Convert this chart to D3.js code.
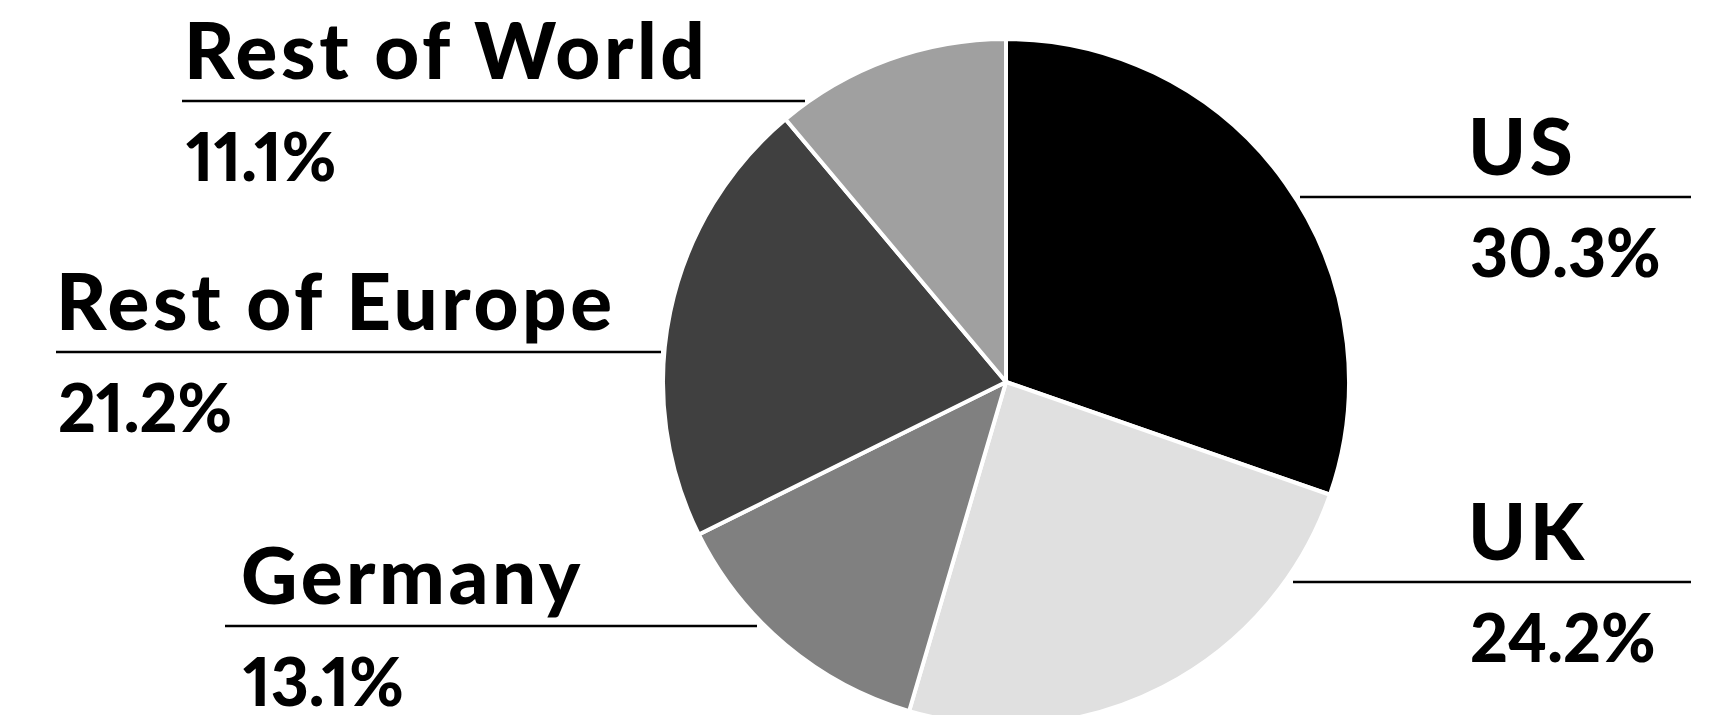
<!DOCTYPE html>
<html lang="en">
<head>
  <meta charset="UTF-8">
  <script src="https://d3js.org/d3.v7.min.js"></script>
  <title>Share by region</title>
  <style>
    html, body { margin: 0; padding: 0; background: #fff; }
    svg { display: block; }
    text { font-family: "Lato", "DejaVu Sans", sans-serif; font-weight: 900; fill: #000; }
    .pct { font-variant-numeric: proportional-nums; font-feature-settings: "pnum" 1; }
  </style>
</head>
<body>
  <svg id="chart" width="1718" height="715"></svg>
  <script>
    const regions = ["US", "UK", "Germany", "Rest of Europe", "Rest of World"];
    const shares = [30.3, 24.2, 13.1, 21.2, 11.1];
    const shades = ["#000000", "#e0e0e0", "#808080", "#404040", "#a0a0a0"];

    // where each label block sits (rule from x0 to x1 at y)
    const labelPos = [
      {x: 1468, y: 197, x0: 1300, x1: 1691},
      {x: 1468, y: 582, x0: 1293, x1: 1691},
      {x: 241,  y: 626, x0: 225,  x1: 757},
      {x: 56,   y: 352, x0: 56,   x1: 661},
      {x: 184,  y: 101, x0: 182,  x1: 805}
    ];

    const cx = 1006, cy = 382, radius = 343;

    const svg = d3.select("#chart");

    const pie = d3.pie().sort(null).value(d => d);
    const arc = d3.arc().innerRadius(0).outerRadius(radius);

    svg.append("g")
      .attr("transform", `translate(${cx},${cy})`)
      .selectAll("path")
      .data(pie(shares))
      .join("path")
      .attr("d", arc)
      .attr("fill", (d, i) => shades[i])
      .attr("stroke", "#fff")
      .attr("stroke-width", 4)
      .attr("stroke-linejoin", "round");

    const labels = svg.append("g")
      .selectAll("g")
      .data(regions)
      .join("g")
      .attr("transform", (d, i) => `translate(0,${labelPos[i].y})`);

    labels.append("line")
      .attr("x1", (d, i) => labelPos[i].x0)
      .attr("x2", (d, i) => labelPos[i].x1)
      .attr("stroke", "#000")
      .attr("stroke-width", 2.5);

    labels.append("text")
      .attr("x", (d, i) => labelPos[i].x)
      .attr("y", -22)
      .attr("font-size", 78)
      .attr("letter-spacing", 3.6)
      .text(d => d);

    labels.append("text")
      .attr("class", "pct")
      .attr("x", (d, i) => labelPos[i].x + 2)
      .attr("y", 80)
      .attr("font-size", 66)
      .text((d, i) => d3.format(".1f")(shares[i]) + "%");
  </script>
</body>
</html>
